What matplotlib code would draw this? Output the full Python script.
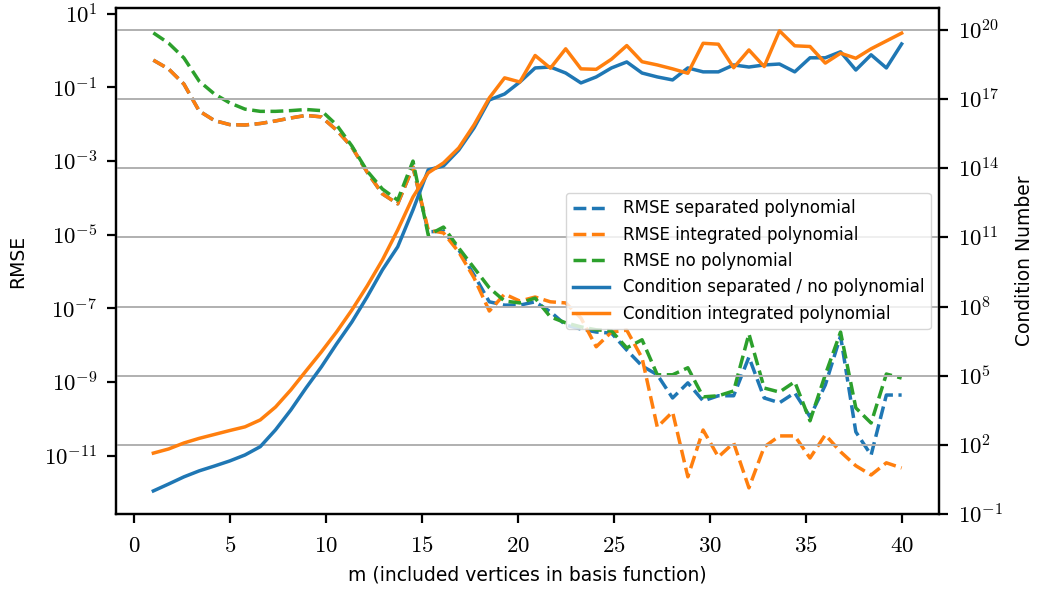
# RMSE and condition number against the number of included vertices m

import matplotlib
matplotlib.use('Agg')
import matplotlib.pyplot as plt
from matplotlib.ticker import FixedLocator, FuncFormatter, NullLocator
import numpy as np

plt.rcParams['mathtext.fontset'] = 'cm'
plt.rcParams['font.family'] = 'DejaVu Sans'

m = np.linspace(1, 40, 50)  # included vertices

# log10 of RMSE (left axis)
log_rmse_separated = [
    -0.26, -0.50, -0.91, -1.64, -1.90, -2.01, -2.02, -1.98, -1.91, -1.83,
    -1.76, -1.80, -2.16, -2.62, -3.30, -3.89, -4.16, -3.16, -4.92, -4.90,
    -5.41, -6.09, -6.82, -6.91, -6.91, -6.82, -7.09, -7.45, -7.56, -7.64,
    -7.67, -8.13, -8.56, -8.80, -9.43, -9.02, -9.51, -9.37, -9.37, -8.32,
    -9.43, -9.56, -9.29, -9.94, -9.08, -7.75, -10.35, -10.98, -9.35, -9.35]
log_rmse_integrated = [
    -0.26, -0.50, -0.91, -1.64, -1.90, -2.01, -2.02, -1.98, -1.91, -1.83,
    -1.76, -1.80, -2.16, -2.62, -3.30, -3.89, -4.16, -3.16, -4.87, -4.95,
    -5.47, -6.17, -7.07, -6.61, -6.80, -6.69, -6.82, -6.85, -7.26, -8.04,
    -7.64, -7.59, -8.34, -10.22, -9.81, -11.57, -10.30, -11.03, -10.65, -11.87,
    -10.76, -10.46, -10.46, -11.06, -10.43, -10.89, -11.27, -11.52, -11.19, -11.33]
log_rmse_none = [
    0.48, 0.20, -0.20, -0.83, -1.18, -1.42, -1.59, -1.65, -1.65, -1.63,
    -1.60, -1.63, -2.02, -2.59, -3.27, -3.76, -4.06, -3.00, -5.01, -4.79,
    -5.36, -5.90, -6.44, -6.80, -6.85, -6.72, -7.23, -7.39, -7.50, -7.58,
    -7.61, -8.07, -7.85, -8.80, -8.80, -8.61, -9.40, -9.37, -9.24, -7.69,
    -9.16, -9.27, -8.99, -10.05, -8.80, -7.64, -9.70, -10.11, -8.78, -8.89]

# log10 of condition number (right axis)
log_cond_separated = [
    0.00, 0.30, 0.61, 0.87, 1.08, 1.30, 1.56, 1.92, 2.65, 3.51,
    4.47, 5.38, 6.38, 7.33, 8.42, 9.59, 10.59, 12.19, 13.93, 14.10,
    14.79, 15.75, 16.96, 17.22, 17.74, 18.35, 18.39, 18.13, 17.70, 17.96,
    18.35, 18.61, 18.13, 17.96, 17.83, 18.35, 18.18, 18.18, 18.48, 18.39,
    18.48, 18.52, 18.18, 18.79, 18.79, 19.05, 18.26, 18.92, 18.35, 19.39]
log_cond_integrated = [
    1.64, 1.82, 2.08, 2.28, 2.45, 2.62, 2.78, 3.08, 3.64, 4.38,
    5.21, 6.03, 6.90, 7.85, 8.89, 10.02, 11.32, 12.75, 13.80, 14.23,
    14.88, 15.88, 17.05, 17.92, 17.74, 18.89, 18.34, 19.18, 18.31, 18.29,
    18.73, 19.32, 18.62, 18.48, 18.31, 18.12, 19.42, 19.38, 18.36, 19.13,
    18.41, 19.96, 19.31, 19.28, 18.56, 18.99, 18.77, 19.18, 19.52, 19.86]

left_ticks = [1, -1, -3, -5, -7, -9, -11]
right_ticks = [20, 17, 14, 11, 8, 5, 2, -1]

blue, orange, green = '#1f77b4', '#ff7f0e', '#2ca02c'
lw = 2.5


def power_label(v, pos):
    return r'$10^{%d}$' % round(np.log10(v))


fig = plt.figure(figsize=(10.39, 5.89), dpi=100)
ax1 = fig.add_axes([0.1116, 0.1273, 0.7922, 0.8591])
ax2 = ax1.twinx()

ax1.plot(m, 10.0 ** np.array(log_rmse_separated), '--', color=blue, lw=lw,
         label='RMSE separated polynomial')
ax1.plot(m, 10.0 ** np.array(log_rmse_integrated), '--', color=orange, lw=lw,
         label='RMSE integrated polynomial')
ax1.plot(m, 10.0 ** np.array(log_rmse_none), '--', color=green, lw=lw,
         label='RMSE no polynomial')
ax2.plot(m, 10.0 ** np.array(log_cond_separated), '-', color=blue, lw=lw,
         label='Condition separated / no polynomial')
ax2.plot(m, 10.0 ** np.array(log_cond_integrated), '-', color=orange, lw=lw,
         label='Condition integrated polynomial')

ax1.set_yscale('log')
ax2.set_yscale('log')
ax1.set_ylim(10 ** -12.58, 10 ** 1.155)
ax2.set_ylim(10 ** -1.002, 10 ** 20.95)
ax1.set_xlim(-0.95, 41.95)

ax1.yaxis.set_major_locator(FixedLocator([10.0 ** k for k in left_ticks]))
ax2.yaxis.set_major_locator(FixedLocator([10.0 ** k for k in right_ticks]))
for ax in (ax1, ax2):
    ax.yaxis.set_major_formatter(FuncFormatter(power_label))
    ax.yaxis.set_minor_locator(NullLocator())
ax1.set_xticks(range(0, 41, 5))
ax1.xaxis.set_major_formatter(FuncFormatter(lambda v, p: r'$%d$' % v))

ax2.grid(True, axis='y', color='#b0b0b0', lw=1.4)

for ax in (ax1, ax2):
    ax.tick_params(labelsize=16.5, length=6.5, width=1.6, pad=7)
    for s in ax.spines.values():
        s.set_linewidth(1.6)
ax1.tick_params(axis='x', pad=8)

ax1.set_xlabel('m (included vertices in basis function)', fontsize=13.5, labelpad=6)
ax1.set_ylabel('RMSE', fontsize=13.5, labelpad=12)
ax2.set_ylabel('Condition Number', fontsize=13.5, labelpad=9)

h1, l1 = ax1.get_legend_handles_labels()
h2, l2 = ax2.get_legend_handles_labels()
ax2.legend(h1 + h2, l1 + l2, loc='center right', fontsize=12, handlelength=2.2)

fig.savefig('out.png', dpi=100)
